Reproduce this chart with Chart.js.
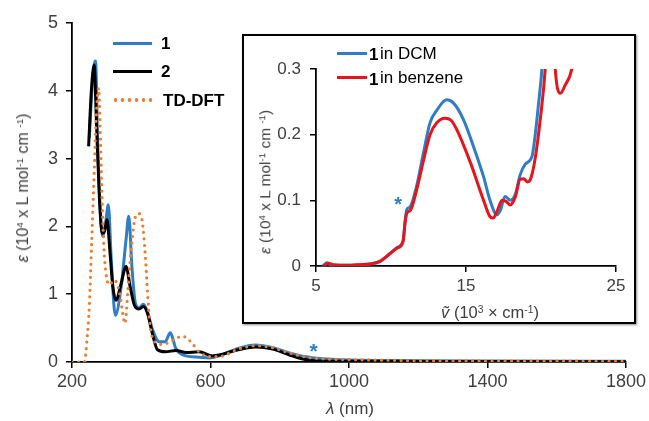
<!DOCTYPE html>
<html>
<head>
<meta charset="utf-8">
<script src="https://cdn.jsdelivr.net/npm/chart.js@4.4.1/dist/chart.umd.min.js"></script>
<style>
  html, body { margin: 0; padding: 0; background: #fff; }
  #wrap { position: relative; width: 649px; height: 421px; font-family: "Liberation Sans", Arial, sans-serif; overflow: hidden; }
  #main { position: absolute; left: 0; top: 0; }
  #insetBox { position: absolute; left: 242px; top: 34px; width: 394px; height: 290px; box-sizing: border-box;
              border: 2px solid #000; background: #fff; box-shadow: 1px 1px 2px rgba(0,0,0,0.45); }
  #inset { position: absolute; left: 0; top: 0; }
  .lbl { position: absolute; white-space: nowrap; color: #404040; line-height: 1; }
  .lbl sup { font-size: 0.62em; vertical-align: baseline; position: relative; top: -0.5em; }
  .leg { position: absolute; white-space: nowrap; color: #000; font-weight: bold; line-height: 1; }
  .swatch { position: absolute; height: 3px; }
</style>
</head>
<body>
<div id="wrap">
  <canvas id="main" width="649" height="421"></canvas>
  <div id="insetBox"><canvas id="inset" width="390" height="286"></canvas></div>

  <!-- main axis titles -->
  <div class="lbl" style="left:23px; top:188px; font-size:16px; transform:translate(-50%,-50%) rotate(-90deg);"><i>ε</i> (10<sup>4</sup> x L mol<sup>-1</sup> cm <sup>-1</sup>)</div>
  <div class="lbl" style="left:350px; top:408px; font-size:17px; transform:translate(-50%,-50%);"><i>λ</i> (nm)</div>

  <!-- main legend -->
  <div class="swatch" style="left:113px; top:42px; width:39px; background:#2E7DC6;"></div>
  <div class="leg" style="left:161px; top:35px; font-size:17px;">1</div>
  <div class="swatch" style="left:113px; top:70px; width:39px; background:#000;"></div>
  <div class="leg" style="left:161px; top:63px; font-size:17px;">2</div>
  <div class="swatch" style="left:112px; top:98px; width:42px; height:4px; background:radial-gradient(circle, #ED7D31 1.6px, transparent 2.1px) repeat-x; background-size:7px 4px;"></div>
  <div class="leg" style="left:163px; top:92px; font-size:17px;">TD-DFT</div>

  <!-- inset axis titles -->
  <div class="lbl" style="left:265px; top:182px; font-size:15.5px; transform:translate(-50%,-50%) rotate(-90deg);"><i>ε</i> (10<sup>4</sup> x L mol<sup>-1</sup> cm <sup>-1</sup>)</div>
  <div class="lbl" style="left:490px; top:312px; font-size:16.5px; transform:translate(-50%,-50%);"><i>ṽ</i> (10<sup>3</sup> × cm<sup>-1</sup>)</div>

  <!-- inset legend -->
  <div class="swatch" style="left:337px; top:52px; width:30px; background:#2E7DC6;"></div>
  <div class="leg" style="left:369px; top:46px; font-size:17px;">1</div>
  <div class="lbl" style="left:380px; top:45px; font-size:17px; color:#000;">in DCM</div>
  <div class="swatch" style="left:337px; top:76px; width:30px; background:#E8141B;"></div>
  <div class="leg" style="left:369px; top:71px; font-size:17px;">1</div>
  <div class="lbl" style="left:380px; top:69px; font-size:17px; color:#000;">in benzene</div>
</div>

<script>
// ---- main spectrum: wavelength (nm) vs epsilon (10^4 L mol-1 cm-1) ----
const nm1 = [250, 258, 264, 268, 274, 281, 289, 297, 305, 313, 325, 342, 356, 364, 373, 383, 394, 406, 418, 433, 452, 469, 484, 500, 529, 567, 596, 625, 680, 730, 780, 830, 870, 900, 950, 1000, 1200, 1400, 1800];
const eps1 = [3.30, 4.05, 4.38, 4.44, 3.27, 2.29, 1.85, 2.05, 2.32, 1.55, 0.69, 1.11, 1.80, 2.15, 1.41, 0.87, 0.80, 0.85, 0.74, 0.47, 0.30, 0.30, 0.43, 0.20, 0.09, 0.07, 0.06, 0.09, 0.20, 0.25, 0.21, 0.13, 0.08, 0.06, 0.04, 0.03, 0.02, 0.015, 0.01];

const nm2 = [248, 256, 264, 271, 279, 287, 294, 301, 310, 318, 327, 342, 356, 368, 380, 394, 406, 418, 433, 447, 470, 500, 530, 567, 606, 680, 730, 780, 830, 870, 900, 1000, 1400, 1800];
const eps2 = [3.18, 4.01, 4.38, 3.47, 2.44, 1.90, 1.93, 2.10, 1.60, 1.11, 0.91, 1.16, 1.41, 1.11, 0.84, 0.78, 0.82, 0.72, 0.40, 0.18, 0.15, 0.17, 0.14, 0.15, 0.09, 0.18, 0.22, 0.19, 0.10, 0.04, 0.02, 0.01, 0.006, 0.005];

const nmDft = [200, 236, 243, 250, 257, 264, 270, 277, 281, 286, 292, 298, 308, 322, 337, 348, 353, 361, 370, 380, 392, 402, 412, 418, 425, 438, 462, 490, 519, 543, 567, 596, 625, 680, 730, 780, 830, 880, 950, 1000, 1200, 1400, 1800];
const epsDft = [0, 0, 0.32, 0.82, 1.80, 2.78, 3.62, 4.04, 3.52, 2.54, 1.70, 1.31, 1.14, 1.21, 1.03, 0.67, 0.57, 1.03, 1.60, 2.07, 2.19, 2.10, 1.55, 1.03, 0.57, 0.30, 0.26, 0.32, 0.38, 0.30, 0.15, 0.08, 0.08, 0.19, 0.24, 0.21, 0.13, 0.07, 0.04, 0.035, 0.02, 0.015, 0.01];

const nmTicks = [200, 600, 1000, 1400, 1800];
const epsTicks = [0, 1, 2, 3, 4, 5];

// ---- inset: wavenumber (10^3 cm-1) vs epsilon ----
const nuDcm = [5.45, 5.76, 6.0, 7.0, 8.0, 8.6, 9.27, 9.94, 10.4, 10.8, 10.95, 11.05, 11.27, 11.7, 12.16, 12.6, 13.05, 13.72, 14.17, 14.83, 15.5, 16.17, 16.6, 17.06, 17.3, 17.6, 17.95, 18.3, 18.6, 18.95, 19.4, 19.6, 19.84, 20.06, 20.3, 21.0, 21.5, 22.0];
const epsDcm = [0, 0.005, 0.001, 0.001, 0.002, 0.003, 0.007, 0.019, 0.028, 0.038, 0.07, 0.086, 0.09, 0.121, 0.172, 0.218, 0.237, 0.253, 0.248, 0.223, 0.182, 0.136, 0.10, 0.078, 0.085, 0.106, 0.10, 0.11, 0.138, 0.155, 0.167, 0.197, 0.248, 0.30, 0.40, 0.36, 0.304, 0.36];

const nuBenz = [5.5, 5.8, 6.2, 7.0, 8.0, 8.6, 9.27, 9.94, 10.4, 10.8, 10.95, 11.05, 11.3, 11.7, 12.16, 12.6, 13.05, 13.6, 14.0, 14.4, 15.3, 16.17, 16.6, 16.8, 17.1, 17.4, 17.7, 17.95, 18.3, 18.6, 18.85, 19.1, 19.3, 19.6, 19.95, 20.28, 20.5, 20.75, 20.95, 21.3, 21.6, 22.05, 22.4];
const epsBenz = [0, 0.004, 0.002, 0.001, 0.002, 0.003, 0.007, 0.019, 0.027, 0.037, 0.068, 0.08, 0.085, 0.115, 0.16, 0.20, 0.218, 0.225, 0.222, 0.207, 0.157, 0.10, 0.075, 0.073, 0.085, 0.10, 0.098, 0.093, 0.106, 0.132, 0.133, 0.128, 0.132, 0.162, 0.223, 0.30, 0.40, 0.40, 0.30, 0.263, 0.275, 0.30, 0.36];

const nuTicks = [5, 15, 25];
const epsInsetTicks = [0, 0.1, 0.2, 0.3];

// asterisk annotations [x, y]
const starMain = [898, 0.21];
const starInset = [10.47, 0.098];

const BLUE = '#2E7DC6', BLACK = '#000000', ORANGE = '#ED7D31', RED = '#E8141B';
const TICK_COLOR = '#404040';
const FONT = '"Liberation Sans", Arial, sans-serif';

function zip(xs, ys) {
  return xs.map((x, i) => ({ x: x, y: ys[i] }));
}

function lineSet(xs, ys, color, order, extra = {}) {
  return Object.assign({
    data: zip(xs, ys),
    borderColor: color,
    borderWidth: 3,
    pointRadius: 0,
    cubicInterpolationMode: 'monotone',
    fill: false,
    order: order
  }, extra);
}

function axis(min, max, ticks, fontSize, pos, tickPad, fitSize) {
  return {
    type: 'linear',
    position: pos,
    min: min,
    max: max,
    afterBuildTicks: (scale) => { scale.ticks = ticks.map(v => ({ value: v })); },
    afterFit: (scale) => {
      if (pos === 'left') scale.width = fitSize; else scale.height = fitSize;
    },
    grid: { drawOnChartArea: false, drawTicks: true, tickLength: 6, color: '#000', lineWidth: 1.5 },
    border: { display: true, color: '#000', width: 1.8 },
    ticks: {
      color: TICK_COLOR,
      padding: tickPad,
      maxRotation: 0,
      autoSkip: false,
      font: { family: FONT, size: fontSize },
      callback: (v) => String(v)
    }
  };
}

function starPlugin(pt, color, size) {
  return {
    id: 'star',
    afterDatasetsDraw(chart) {
      const ctx = chart.ctx;
      ctx.save();
      ctx.fillStyle = color;
      ctx.font = 'bold ' + size + 'px ' + FONT;
      ctx.textAlign = 'center';
      ctx.textBaseline = 'middle';
      ctx.fillText('*', chart.scales.x.getPixelForValue(pt[0]), chart.scales.y.getPixelForValue(pt[1]) + 4);
      ctx.restore();
    }
  };
}

const common = {
  responsive: false,
  animation: false,
  devicePixelRatio: 1,
  plugins: { legend: { display: false }, tooltip: { enabled: false } }
};

new Chart(document.getElementById('main'), {
  type: 'line',
  data: {
    datasets: [
      lineSet(nmDft, epsDft, ORANGE, 0, { borderDash: [0, 6.5], borderCapStyle: 'round', borderWidth: 3.2 }),
      lineSet(nm2, eps2, BLACK, 1),
      lineSet(nm1, eps1, BLUE, 2)
    ]
  },
  options: Object.assign({}, common, {
    layout: { padding: { left: 0, right: 21, top: 23, bottom: 0 } },
    scales: {
      x: axis(200, 1800, nmTicks, 18, 'bottom', 3, 59),
      y: axis(0, 5, epsTicks, 18, 'left', 8, 72)
    }
  }),
  plugins: [starPlugin(starMain, BLUE, 21)]
});

new Chart(document.getElementById('inset'), {
  type: 'line',
  data: {
    datasets: [
      lineSet(nuBenz, epsBenz, RED, 0),
      lineSet(nuDcm, epsDcm, BLUE, 1)
    ]
  },
  options: Object.assign({}, common, {
    layout: { padding: { left: 0, right: 18, top: 33, bottom: 0 } },
    scales: {
      x: axis(5, 25, nuTicks, 17, 'bottom', 4, 56),
      y: axis(0, 0.3, epsInsetTicks, 17, 'left', 9, 72)
    }
  }),
  plugins: [starPlugin(starInset, BLUE, 20)]
});
</script>
</body>
</html>
